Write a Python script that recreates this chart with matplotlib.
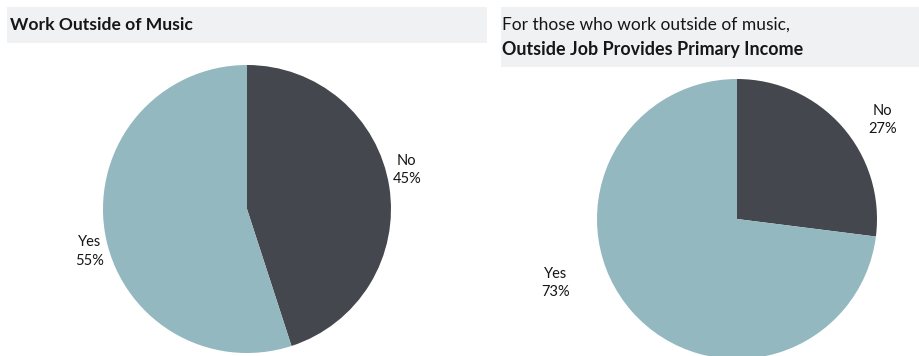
import matplotlib.pyplot as plt
from matplotlib.patches import Rectangle

# data
left_title = "Work Outside of Music"
left_labels = ["No", "Yes"]
left_values = [45, 55]

right_title_1 = "For those who work outside of music,"
right_title_2 = "Outside Job Provides Primary Income"
right_labels = ["No", "Yes"]
right_values = [27, 73]

colors = ["#44474d", "#93b8bf"]
band_color = "#eff1f2"
text_color = "#161616"

W, H = 919, 356
plt.rcParams['font.family'] = ['Lato', 'DejaVu Sans']

fig = plt.figure(figsize=(W / 100, H / 100), dpi=100)
fig.patch.set_facecolor("white")


def px_box(x0, y0, x1, y1):
    # pixel box (top-left origin) -> figure fraction rect
    return [x0 / W, 1 - y1 / H, (x1 - x0) / W, (y1 - y0) / H]


def band(x0, y0, x1, y1):
    r = px_box(x0, y0, x1, y1)
    fig.patches.append(Rectangle((r[0], r[1]), r[2], r[3], transform=fig.transFigure,
                                 facecolor=band_color, edgecolor="none", zorder=0))


def draw_pie(rect, values, labels, label_pos):
    ax = fig.add_axes(rect)
    ax.pie(values, colors=colors, startangle=90, counterclock=False,
           wedgeprops=dict(linewidth=0))
    ax.set_xlim(-1, 1)
    ax.set_ylim(-1, 1)
    ax.set_aspect("equal")
    ax.axis("off")
    for lab, val, (lx, ly) in zip(labels, values, label_pos):
        ax.text(lx, ly, f"{lab}\n{val}%", ha="center", va="center", fontsize=10.5,
                color=text_color, linespacing=1.45)
    return ax


# title bands
band(7, 7, 487, 43)
band(501, 7, 919, 67)
fig.text(10 / W, 1 - 25 / H, left_title, fontsize=12.6, fontweight="bold",
         color=text_color, va="center", ha="left")
fig.text(502 / W, 1 - 25 / H, right_title_1, fontsize=12.5,
         color=text_color, va="center", ha="left")
fig.text(502 / W, 1 - 49 / H, right_title_2, fontsize=12.9, fontweight="bold",
         color=text_color, va="center", ha="left")

# pies
draw_pie(px_box(103, 65, 391, 353), left_values, left_labels,
         [(1.11, 0.271), (-1.09, -0.298)])
draw_pie(px_box(597, 79, 877, 359), right_values, right_labels,
         [(1.04, 0.707), (-1.293, -0.457)])

fig.savefig("out.png", dpi=100)
